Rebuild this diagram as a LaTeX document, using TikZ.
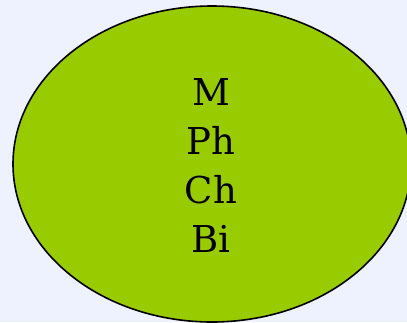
\documentclass[tikz,border=0pt]{standalone}
\usepackage{fontspec}
\setmainfont{DejaVu Serif}
\usetikzlibrary{shapes.geometric}
\definecolor{bglavender}{HTML}{EEF1FE}
\definecolor{leafgreen}{HTML}{99CC00}

\begin{document}
\begin{tikzpicture}[x=1pt, y=-1pt]
  \useasboundingbox (0,0) rectangle (407,322);
  \fill[bglavender] (0,0) rectangle (407,322);% page background
  \filldraw[fill=leafgreen, draw=black, line width=1.6pt] (212,164) ellipse [x radius=199, y radius=158];% the big ellipse
  \node[align=center, inner sep=0pt, font=\fontsize{37}{48.7}\selectfont] (subjects) at (211,165.5) {M\\Ph\\Ch\\Bi};
\end{tikzpicture}
\end{document}
